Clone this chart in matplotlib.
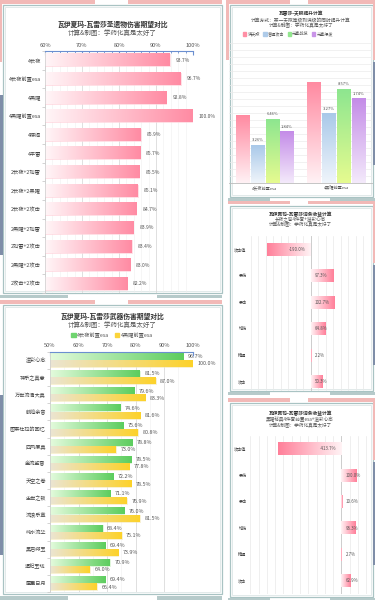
import numpy as np
import matplotlib.pyplot as plt
from matplotlib.colors import LinearSegmentedColormap
from matplotlib.patches import Rectangle, Patch

plt.rcParams['font.family'] = ['Noto Sans CJK SC', 'DejaVu Sans']

# ---- data ----
artifact_sets = ['4长夜', '4长夜前置esa', '4黑曜', '4黑曜前置esa', '4楼阁', '4平雷',
                 '2长夜+2如雷', '2长夜+2黑曜', '2长夜+2攻击', '2黑曜+2如雷',
                 '2如雷+2攻击', '2黑曜+2攻击', '2攻击+2攻击']
artifact_dmg = [93.7, 96.7, 92.8, 100.0, 85.9, 85.7, 85.5, 85.1, 84.7, 83.9, 83.4, 83.0, 82.2]

talent_groups = ['4长夜前置esa', '4黑曜前置esa']
talent_series = ['满天赋', '普通攻击', '元素战技', '元素爆发']
talent_full = [9.7, 14.3]
talent_na = [5.4, 9.9]
talent_skill = [9.1, 13.4]
talent_burst = [7.3, 12.0]
talent_na_gain = [3.26, 3.27]
talent_skill_gain = [6.46, 8.57]
talent_burst_gain = [1.84, 1.74]

substats = ['攻击值', '暴伤', '暴击', '增伤', '精通', '攻击']
substat_night = [-190.0, 97.3, 102.7, 64.8, 2.2, 50.3]
substat_obsidian = [-413.7, 100.0, 10.6, 96.3, 2.7, 62.9]

weapons = ['溢彩心念', '神乐之真意', '万世流涌大典', '鹤鸣余音', '图莱杜拉的回忆', '四风原典',
           '金流监督', '天空之卷', '尘世之锁', '流浪乐章', '纯水流华', '黑岩绯玉',
           '遗祀玉珑', '匣里日月']
weapon_night = [96.7, 81.5, 79.6, 74.6, 75.6, 78.8, 78.5, 72.2, 71.1, 76.0, 68.4, 69.4, 70.9, 69.4]
weapon_obsidian = [100.0, 87.0, 83.3, 81.6, 80.8, 73.0, 77.8, 78.5, 76.9, 81.5, 75.1, 73.9, 64.0, 66.4]

SUB = '计算&制图：学药化真是太好了'

W, H = 375, 600
fig = plt.figure(figsize=(W / 100, H / 100), dpi=100)
bg = fig.add_axes([0, 0, 1, 1])
bg.set_xlim(0, W)
bg.set_ylim(H, 0)
bg.axis('off')

PINK = '#f2b9b7'
TEAL = '#b6caca'
SLATE = '#7f8ea8'


def block(x0, y0, x1, y1, c):
    bg.add_patch(Rectangle((x0, y0), x1 - x0, y1 - y0, color=c, lw=0))


def frame(x0, y0, x1, y1):
    bg.add_patch(Rectangle((x0, y0), x1 - x0, y1 - y0, fc='white', ec='#a9c3c3', lw=0.9))
    bg.add_patch(Rectangle((x0 + 2, y0 + 2), x1 - x0 - 4, y1 - y0 - 4, fc='none', ec='#d6e2e2', lw=0.5))


def px_axes(l, t, r, b):
    ax = fig.add_axes([l / W, 1 - b / H, (r - l) / W, (b - t) / H])
    ax.set_facecolor('none')
    return ax


def hgrad(ax, bars, cmap):
    g = np.linspace(0, 1, 256).reshape(1, -1)
    for b in bars:
        x, y = b.get_xy()
        w, h = b.get_width(), b.get_height()
        img = g if w >= 0 else g[:, ::-1]
        ax.imshow(img, cmap=cmap, aspect='auto', interpolation='bilinear',
                  extent=[min(x, x + w), max(x, x + w), y, y + h], zorder=2)
        b.set_facecolor('none')


def vgrad(ax, bars, cmap):
    g = np.linspace(1, 0, 256).reshape(-1, 1)
    for b in bars:
        x, y = b.get_xy()
        w, h = b.get_width(), b.get_height()
        ax.imshow(g, cmap=cmap, aspect='auto', interpolation='bilinear',
                  extent=[x, x + w, y, y + h], zorder=2)
        b.set_facecolor('none')


def cm(a, b):
    return LinearSegmentedColormap.from_list('g', [a, b])


# ---- decorations ----
# left column
block(0, 0, 95, 3.5, PINK); block(128, 0, 222, 3.5, PINK); block(0, 0, 2, 62, PINK)
frame(3, 5, 222, 293)
block(0, 95, 2.5, 255, SLATE)
block(0, 294.5, 68, 298, TEAL); block(157, 294.5, 222, 298, TEAL)
block(0, 300, 95, 303.5, PINK); block(128, 300, 222, 303.5, PINK)
frame(3, 305, 222, 594)
block(0, 395, 2.5, 555, SLATE)
block(0, 596, 68, 600, TEAL); block(157, 596, 222, 600, TEAL)
# right column
block(226, 0, 229, 60, PINK)
for top, bot, sl in [(0, 197, (62, 165)), (200.5, 391, (265, 365)), (398, 597, (462, 565))]:
    block(228, top, 290, top + 3.5, PINK); block(308, top, 375, top + 3.5, PINK)
    frame(230, top + 5, 373, bot)
    block(373, top, 375, sl[0] - 2, PINK)
    block(373, sl[0], 375, sl[1], SLATE)
    block(228, bot + 1, 270, bot + 3.5, TEAL); block(330, bot + 1, 375, bot + 3.5, TEAL)

# ---- titles ----
def titles(x, ys, lines, fs_t, fs_s):
    bg.text(x, ys[0], lines[0], ha='center', va='center', fontsize=fs_t,
            fontweight='bold', color='#333333')
    for y, s in zip(ys[1:], lines[1:]):
        bg.text(x, y, s, ha='center', va='center', fontsize=fs_s, color='#555555')


titles(112.5, [24.3, 32.7], ['瓦伊夏玛-瓦雷莎圣遗物伤害期望对比', SUB], 4.9, 4.7)
titles(112.5, [316.7, 325.2], ['瓦伊夏玛-瓦雷莎武器伤害期望对比', SUB], 4.9, 4.7)
titles(301, [14, 20, 25.3], ['瓦雷莎-天赋提升计算', '计算方式：某一天赋等级到满级的同时提升计算', SUB], 3.4, 3.4)
titles(300, [214.3, 219.6, 224.6], ['瓦伊夏玛-瓦雷莎词条收益计算', '长夜之誓4件套+溢彩心念', SUB], 3.4, 3.3)
titles(300, [413.3, 419.8, 425.6], ['瓦伊夏玛-瓦雷莎词条收益计算', '黑曜秘典4件套前置esa+溢彩心念', SUB], 3.4, 3.3)


def top_axis(ax, lo, hi, minor):
    ax.xaxis.tick_top()
    ax.set_xticks(np.arange(lo, hi + 1, 10))
    ax.set_xticklabels([f'{t}%' for t in range(lo, hi + 1, 10)])
    ax.set_xticks(np.arange(lo, hi + 0.1, minor), minor=True)
    ax.tick_params(axis='x', which='both', direction='in', color='#6b8fd0', labelsize=4.1,
                   labelcolor='#555555', pad=2.5)
    ax.tick_params(axis='x', which='major', length=3)
    ax.tick_params(axis='x', which='minor', length=1.5)
    for s in ['right', 'bottom']:
        ax.spines[s].set_visible(False)
    ax.spines['top'].set_color('#6b8fd0')
    ax.spines['top'].set_linewidth(0.8)
    ax.spines['left'].set_color('#cccccc')
    ax.spines['left'].set_linewidth(0.5)
    ax.grid(axis='x', which='major', color='#dadada', lw=0.6)
    ax.grid(axis='x', which='minor', color='#efefef', lw=0.4)
    ax.set_axisbelow(True)


# ---- panel A: artifacts ----
axA = px_axes(45, 51, 193, 293)
n = len(artifact_sets)
pos = np.arange(n)
barsA = axA.barh(pos, np.array(artifact_dmg) - 60, left=60, height=0.65,
                 edgecolor='#ffd3dc', lw=0.5)
hgrad(axA, barsA, cm('#fff6f8', '#ff8ba3'))
for i, v in enumerate(artifact_dmg):
    axA.text(v + 1.6, i, f'{v:.1f}%', va='center', fontsize=3.6, color='#555555')
top_axis(axA, 60, 100, 2)
axA.set_yticks(pos)
axA.set_yticklabels(artifact_sets)
axA.set_yticks(np.arange(-0.5, n, 1), minor=True)
axA.tick_params(axis='y', which='major', length=0, pad=3, labelsize=3.8, labelcolor='#444444')
axA.tick_params(axis='y', which='minor', length=2, color='#cccccc')
axA.set_xlim(60, 100)
axA.set_ylim(n - 0.5, -0.5)

# ---- panel E: weapons ----
axE = px_axes(50, 351.7, 192.7, 592)
m = len(weapons)
posE = np.arange(m)
bg_ = axE.barh(posE - 0.21, np.array(weapon_night) - 50, left=50, height=0.38,
               edgecolor='#c8f0c0', lw=0.4)
by_ = axE.barh(posE + 0.21, np.array(weapon_obsidian) - 50, left=50, height=0.38,
               edgecolor='#f4e6b0', lw=0.4)
hgrad(axE, bg_, cm('#e4fbdd', '#5ccd5e'))
hgrad(axE, by_, cm('#ebe5d3', '#fdd22a'))
for i, (a, b) in enumerate(zip(weapon_night, weapon_obsidian)):
    axE.text(a + 1.6, i - 0.21, f'{a:.1f}%', va='center', fontsize=3.9, color='#555555')
    axE.text(b + 1.6, i + 0.21, f'{b:.1f}%', va='center', fontsize=3.9, color='#555555')
top_axis(axE, 50, 100, 5)
axE.set_yticks(posE)
axE.set_yticklabels(weapons)
axE.set_yticks(np.arange(-0.5, m, 1), minor=True)
axE.tick_params(axis='y', which='major', length=0, pad=3, labelsize=3.7, labelcolor='#444444')
axE.tick_params(axis='y', which='minor', length=2, color='#cccccc')
axE.set_xlim(50, 100)
axE.set_ylim(m - 0.5, -0.5)
fig.legend(handles=[Patch(color='#6fd46f'), Patch(color='#fbd43a')],
           labels=['4长夜前置esa', '4黑曜前置esa'], ncol=2, loc='center',
           bbox_to_anchor=(112 / W, 1 - 335 / H), frameon=False, fontsize=3.8,
           handlelength=0.9, handleheight=0.9, handletextpad=0.3, columnspacing=1.0,
           labelcolor='#555555')

# ---- panel B: talents ----
axB = px_axes(229, 43, 372, 183)
xg = np.arange(len(talent_groups))
step = 0.208
series = [talent_full, talent_na, talent_skill, talent_burst]
cmaps = [cm('#fff2f5', '#ff8aa1'), cm('#f0f5fb', '#a9c9e9'),
         cm('#e6fb90', '#8de68f'), cm('#f4eafb', '#c48ce8')]
gains = [None, talent_na_gain, talent_skill_gain, talent_burst_gain]
for k, (vals, cmap, gain) in enumerate(zip(series, cmaps, gains)):
    bars = axB.bar(xg + (k - 1.5) * step, vals, width=0.185, edgecolor='none')
    vgrad(axB, bars, cmap)
    if gain is not None:
        for xx, v, gv in zip(xg + (k - 1.5) * step, vals, gain):
            axB.text(xx, v + 0.45, f'{gv:.2f}%', ha='center', va='bottom',
                     fontsize=3.0, color='#555555')
axB.set_xlim(-0.5, 1.5)
axB.set_ylim(0, 20)
axB.set_yticks(np.arange(0, 21, 1))
axB.set_yticklabels([])
axB.tick_params(axis='y', length=0)
axB.set_xticks(xg)
axB.set_xticklabels(talent_groups)
axB.tick_params(axis='x', length=0, pad=2, labelsize=3.0, labelcolor='#555555')
axB.grid(axis='y', color='#ebebeb', lw=0.5)
axB.set_axisbelow(True)
for s in ['top', 'right', 'left']:
    axB.spines[s].set_visible(False)
axB.spines['bottom'].set_color('#bbbbbb')
axB.spines['bottom'].set_linewidth(0.6)
fig.legend(handles=[Patch(color=c) for c in ['#ff8fa5', '#aecbe9', '#93e68f', '#c994e8']],
           labels=talent_series, ncol=4, loc='center',
           bbox_to_anchor=(288 / W, 1 - 34 / H), frameon=False, fontsize=3.0,
           handlelength=0.8, handleheight=0.8, handletextpad=0.3, columnspacing=0.8,
           labelcolor='#555555')


# ---- panels C & D: substat value ----
def substat_panel(ax, vals, xlim, gstep, ylim_bottom):
    p = np.arange(len(substats))
    bars = ax.barh(p, vals, height=0.48, edgecolor='none')
    hgrad(ax, bars, cm('#fff3f5', '#ff7f99'))
    for i, v in enumerate(vals):
        if v >= 0:
            ax.annotate(f'{v:.1f}%', (0, i), xytext=(3, 0), textcoords='offset points',
                        ha='left', va='center', fontsize=3.2, color='#555555', zorder=4)
        else:
            ax.annotate(f'{v:.1f}%', (0, i), xytext=(-3.5, 0), textcoords='offset points',
                        ha='right', va='center', fontsize=3.2, color='#555555', zorder=4)
    ax.axvline(0, color='#c8c8c8', lw=0.6, zorder=1)
    k0 = int(np.floor(xlim[0] / gstep))
    k1 = int(np.ceil(xlim[1] / gstep))
    ax.set_xticks(np.arange(k0, k1 + 1) * gstep)
    ax.set_xticklabels([])
    ax.tick_params(axis='x', length=0)
    ax.grid(axis='x', color='#e9e9e9', lw=0.5)
    ax.set_axisbelow(True)
    ax.set_yticks(p)
    ax.set_yticklabels(substats)
    ax.tick_params(axis='y', length=0, pad=1.5, labelsize=3.0, labelcolor='#444444')
    for s in ax.spines.values():
        s.set_visible(False)
    ax.set_xlim(*xlim)
    ax.set_ylim(ylim_bottom, -0.5)


axC = px_axes(248.7, 236, 364.7, 391)
substat_panel(axC, substat_night, (-272, 237), 33, 5.5 - 4 / 26.5)
axD = px_axes(248.7, 435.8, 368, 594)
substat_panel(axD, substat_obsidian, (-605, 174), 54, 5.5)

fig.savefig('out.png', dpi=100)
